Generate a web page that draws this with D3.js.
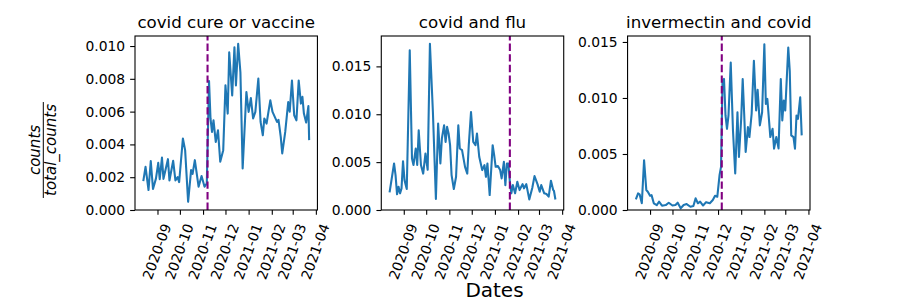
<!DOCTYPE html>
<html>
<head>
<meta charset="utf-8">
<script src="https://cdn.jsdelivr.net/npm/d3@7"></script>
<style>
  body { margin: 0; background: #fff; }
  svg { display: block; font-family: "DejaVu Sans", sans-serif; }
</style>
</head>
<body>
<div id="chart"></div>
<script>
// ---- data ----
const titles = ['covid cure or vaccine', 'covid and flu', 'invermectin and covid']
const eventDates = ['2020-11-07', '2021-01-21', '2020-12-06']

const cureDates = ['2020-08-13','2020-08-16','2020-08-20','2020-08-23','2020-08-26','2020-08-30','2020-09-02','2020-09-04','2020-09-07','2020-09-09','2020-09-12','2020-09-15','2020-09-17','2020-09-22','2020-09-25','2020-09-28','2020-09-30','2020-10-05','2020-10-08','2020-10-12','2020-10-16','2020-10-18','2020-10-21','2020-10-26','2020-10-30','2020-11-03','2020-11-06','2020-11-09','2020-11-11','2020-11-13','2020-11-15','2020-11-18','2020-11-21','2020-11-24','2020-11-28','2020-12-01','2020-12-04','2020-12-06','2020-12-10','2020-12-13','2020-12-15','2020-12-18','2020-12-21','2020-12-24','2020-12-29','2021-01-01','2021-01-04','2021-01-07','2021-01-10','2021-01-14','2021-01-17','2021-01-20','2021-01-22','2021-01-25','2021-01-30','2021-02-02','2021-02-08','2021-02-10','2021-02-13','2021-02-15','2021-02-19','2021-02-23','2021-02-25','2021-02-28','2021-03-03','2021-03-06','2021-03-09','2021-03-12','2021-03-14','2021-03-16','2021-03-19','2021-03-22','2021-03-23']
const cureValues = [0.00176,0.00263,0.00122,0.00298,0.00128,0.00193,0.00288,0.00188,0.0032,0.0019,0.0025,0.0031,0.0018,0.0030,0.0018,0.0020,0.0017,0.00436,0.00365,0.0005,0.00243,0.0022,0.00304,0.00142,0.00207,0.00142,0.00162,0.00786,0.00557,0.00476,0.00547,0.00415,0.00486,0.00294,0.00365,0.0076,0.00588,0.00962,0.00699,0.00993,0.0076,0.01013,0.0084,0.00253,0.0072,0.00598,0.00683,0.00558,0.00598,0.00801,0.00537,0.00456,0.00558,0.00527,0.00669,0.00598,0.00537,0.0055,0.00446,0.00345,0.00476,0.00658,0.006,0.0079,0.00578,0.00547,0.0079,0.00649,0.0069,0.00588,0.00533,0.00634,0.00426]

const fluDates = ['2020-08-13','2020-08-19','2020-08-21','2020-08-23','2020-08-25','2020-08-27','2020-08-29','2020-08-31','2020-09-02','2020-09-05','2020-09-09','2020-09-12','2020-09-14','2020-09-17','2020-09-19','2020-09-21','2020-09-24','2020-09-27','2020-09-30','2020-10-03','2020-10-06','2020-10-10','2020-10-14','2020-10-17','2020-10-20','2020-10-22','2020-10-25','2020-10-27','2020-10-29','2020-10-31','2020-11-02','2020-11-04','2020-11-07','2020-11-10','2020-11-13','2020-11-15','2020-11-18','2020-11-22','2020-11-25','2020-11-27','2020-11-30','2020-12-03','2020-12-06','2020-12-08','2020-12-11','2020-12-15','2020-12-18','2020-12-20','2020-12-22','2020-12-25','2020-12-29','2020-12-31','2021-01-02','2021-01-05','2021-01-08','2021-01-10','2021-01-13','2021-01-15','2021-01-17','2021-01-19','2021-01-21','2021-01-23','2021-01-25','2021-01-28','2021-01-31','2021-02-03','2021-02-07','2021-02-09','2021-02-12','2021-02-16','2021-02-20','2021-02-23','2021-02-27','2021-03-02','2021-03-04','2021-03-08','2021-03-11','2021-03-14','2021-03-17','2021-03-20','2021-03-21','2021-03-23']
const fluValues = [0.00184,0.00486,0.00365,0.00164,0.00243,0.00174,0.00226,0.0051,0.00312,0.00219,0.01667,0.00538,0.0047,0.00642,0.0047,0.00833,0.0047,0.0038,0.0059,0.0042,0.01736,0.01024,0.00115,0.00903,0.00486,0.00747,0.00885,0.00711,0.00868,0.00799,0.00677,0.00365,0.00219,0.00347,0.00885,0.00642,0.00625,0.00451,0.0038,0.00677,0.01024,0.00711,0.00677,0.00799,0.00556,0.00417,0.00469,0.00347,0.00486,0.00156,0.00677,0.00573,0.00451,0.0046,0.00417,0.0033,0.00503,0.0026,0.00486,0.00486,0.00295,0.00174,0.0026,0.00174,0.00295,0.00208,0.0027,0.00226,0.0027,0.00111,0.0023,0.00354,0.0027,0.0019,0.0026,0.00174,0.00167,0.00139,0.00306,0.00208,0.00201,0.0011]

const ivmDates = ['2020-08-13','2020-08-16','2020-08-18','2020-08-21','2020-08-24','2020-08-27','2020-08-29','2020-09-01','2020-09-03','2020-09-06','2020-09-10','2020-09-13','2020-09-17','2020-09-22','2020-09-26','2020-10-01','2020-10-05','2020-10-08','2020-10-12','2020-10-16','2020-10-20','2020-10-25','2020-10-29','2020-11-01','2020-11-04','2020-11-07','2020-11-11','2020-11-15','2020-11-20','2020-11-24','2020-11-27','2020-11-30','2020-12-03','2020-12-05','2020-12-07','2020-12-09','2020-12-11','2020-12-13','2020-12-15','2020-12-18','2020-12-21','2020-12-24','2020-12-27','2020-12-29','2021-01-01','2021-01-03','2021-01-05','2021-01-07','2021-01-10','2021-01-12','2021-01-15','2021-01-18','2021-01-21','2021-01-23','2021-01-26','2021-01-29','2021-02-01','2021-02-03','2021-02-05','2021-02-09','2021-02-12','2021-02-14','2021-02-17','2021-02-20','2021-02-23','2021-02-25','2021-02-27','2021-03-01','2021-03-05','2021-03-07','2021-03-09','2021-03-12','2021-03-14','2021-03-16','2021-03-18','2021-03-21','2021-03-23']
const ivmValues = [0.00095,0.00148,0.0014,0.0006,0.00444,0.00178,0.00163,0.00127,0.00133,0.0006,0.00044,0.00074,0.00038,0.00044,0.00065,0.0004,0.00044,0.00065,0.00015,0.00044,0.00053,0.00029,0.00036,0.00104,0.0006,0.00074,0.0004,0.0007,0.0006,0.00089,0.00127,0.00118,0.0031,0.00385,0.01154,0.0117,0.00844,0.00725,0.00844,0.01317,0.0071,0.00326,0.00873,0.00473,0.00814,0.0117,0.00859,0.00518,0.0074,0.00651,0.00859,0.01332,0.00888,0.01072,0.00755,0.00873,0.0148,0.00947,0.00992,0.00651,0.00725,0.00548,0.00651,0.0055,0.0117,0.008,0.00977,0.00888,0.0145,0.01243,0.00666,0.0065,0.00548,0.00844,0.00814,0.01006,0.00666]

const yTicks = [
  [0, 0.002, 0.004, 0.006, 0.008, 0.010],
  [0, 0.005, 0.010, 0.015],
  [0, 0.005, 0.010, 0.015]
]

// ---- layout (matplotlib-ish figure, 100 dpi) ----
const width = 900, height = 300
const margin = {top: 36, right: 90, bottom: 90, left: 135}
const wspace = 0.35
const panelW = (width - margin.left - margin.right) / (3 + 2 * wspace)
const innerH = height - margin.top - margin.bottom
const tickLen = 4.86
const tickFont = 13.89
const lineBlue = '#1f77b4'

const svg = d3.select('#chart')
              .append('svg')
              .attr('width', width)
              .attr('height', height)

const parse = d3.timeParse('%Y-%m-%d')

const panels = [
  {dates: cureDates, values: cureValues},
  {dates: fluDates, values: fluValues},
  {dates: ivmDates, values: ivmValues}
].map((p, i) => ({
  title: titles[i],
  event: parse(eventDates[i]),
  ticks: yTicks[i],
  data: p.dates.map((d, j) => ({date: parse(d), value: p.values[j]}))
}))

panels.forEach((p, i) => {
  const left = margin.left + i * panelW * (1 + wspace)
  const g = svg.append('g').attr('transform', 'translate(' + left + ',' + margin.top + ')')

  // matplotlib style 5% margins
  const [d0, d1] = d3.extent(p.data, d => d.date)
  const pad = (d1 - d0) * 0.05
  const x = d3.scaleTime()
              .domain([new Date(+d0 - pad), new Date(+d1 + pad)])
              .range([0, panelW])
  const [v0, v1] = d3.extent(p.data, d => d.value)
  const y = d3.scaleLinear()
              .domain([0, v1 + (v1 - v0) * 0.05])
              .range([innerH, 0])

  // y axis
  const yAxis = g.append('g')
                 .call(d3.axisLeft(y)
                         .tickValues(p.ticks)
                         .tickFormat(d3.format('.3f'))
                         .tickSize(tickLen)
                         .tickSizeOuter(0)
                         .tickPadding(5))
  yAxis.select('.domain').remove()
  yAxis.selectAll('line').attr('stroke', '#000').attr('stroke-width', 1.1)
  yAxis.selectAll('text')
       .attr('font-family', '"DejaVu Sans", sans-serif')
       .attr('font-size', tickFont)
       .attr('fill', '#000')

  // x axis
  const xAxis = g.append('g')
                 .attr('transform', 'translate(0,' + innerH + ')')
                 .call(d3.axisBottom(x)
                         .ticks(d3.timeMonth.every(1))
                         .tickFormat(d3.timeFormat('%Y-%m'))
                         .tickSize(tickLen)
                         .tickSizeOuter(0))
  xAxis.select('.domain').remove()
  xAxis.selectAll('line').attr('stroke', '#000').attr('stroke-width', 1.1)
  xAxis.selectAll('text')
       .attr('font-family', '"DejaVu Sans", sans-serif')
       .attr('font-size', tickFont)
       .attr('fill', '#000')
       .attr('y', 0)
       .attr('dy', null)
       .attr('text-anchor', 'middle')
       .attr('dominant-baseline', 'central')
       .attr('transform', 'translate(-1.2,41.5) rotate(-70)')

  // the series
  const line = d3.line()
                 .x(d => x(d.date))
                 .y(d => y(d.value))
  g.append('path')
   .datum(p.data)
   .attr('fill', 'none')
   .attr('stroke', lineBlue)
   .attr('stroke-width', 2.08)
   .attr('stroke-linejoin', 'round')
   .attr('d', line)

  // event marker (axvline, dashed purple)
  g.append('line')
   .attr('x1', x(p.event)).attr('x2', x(p.event))
   .attr('y1', innerH).attr('y2', 0)
   .attr('stroke', 'purple')
   .attr('stroke-width', 2.08)
   .attr('stroke-dasharray', '7.4,3.2')

  // spines
  g.append('rect')
   .attr('width', panelW)
   .attr('height', innerH)
   .attr('fill', 'none')
   .attr('stroke', '#000')
   .attr('stroke-width', 1.1)

  g.append('text')
   .attr('x', panelW / 2)
   .attr('y', -8.3)
   .attr('text-anchor', 'middle')
   .attr('font-size', 16.67)
   .attr('fill', '#000')
   .text(p.title)
})

// figure labels
svg.append('text')
   .attr('x', 494.5)
   .attr('y', 296.5)
   .attr('text-anchor', 'middle')
   .attr('font-size', 20)
   .attr('fill', '#000')
   .text('Dates')

const frac = svg.append('g').attr('transform', 'translate(43.3,150) rotate(-90)')
frac.append('text')
    .attr('x', 0).attr('y', -3.5)
    .attr('text-anchor', 'middle')
    .attr('font-size', 15)
    .attr('font-style', 'italic')
    .text('counts')
const den = frac.append('text')
    .attr('x', 0).attr('y', 13)
    .attr('text-anchor', 'middle')
    .attr('font-size', 15)
    .attr('font-style', 'italic')
    .text('total_counts')
const half = den.node().getComputedTextLength() / 2 + 2
frac.append('line')
    .attr('x1', -half).attr('x2', half)
    .attr('y1', 0).attr('y2', 0)
    .attr('stroke', '#000')
    .attr('stroke-width', 1)
</script>
</body>
</html>
